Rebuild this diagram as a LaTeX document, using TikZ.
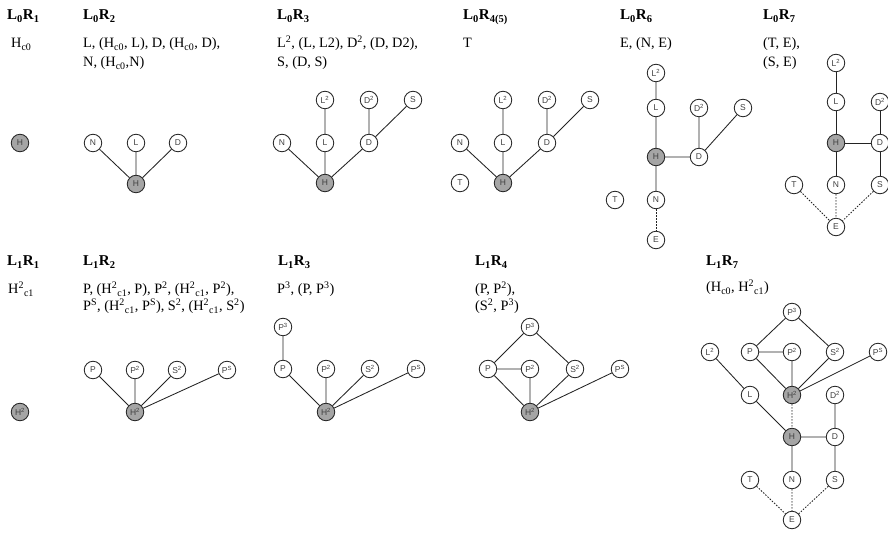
\documentclass[tikz,border=0pt]{standalone}
\usepackage{fontspec}
\setmainfont{Liberation Serif}
\newfontfamily\nodefont{Liberation Sans}
\definecolor{hgray}{RGB}{165,165,165}
\definecolor{lgray}{RGB}{35,35,35}
\begin{document}
\begin{tikzpicture}[x=1pt,y=-1pt,
 v/.style={circle,draw=lgray,line width=0.85pt,fill=white,minimum size=17.5pt,inner sep=0pt,font=\nodefont\fontsize{8.5}{9}\selectfont,text=black!75},
 hv/.style={v,fill=hgray},
 e/.style={draw=lgray,line width=0.85pt},
 de/.style={e,dash pattern=on 1.5pt off 1.5pt},
 hd/.style={anchor=base west,font=\fontsize{15}{18}\selectfont\bfseries,inner sep=0pt},
 tx/.style={anchor=base west,font=\fontsize{14.3}{17}\selectfont,inner sep=0pt}]
\useasboundingbox[fill=white] (0,0) rectangle (888,534);

% ---------- headings and texts, top row ----------
\node[hd] (t01) at (7,20) {L\textsubscript{0}R\textsubscript{1}};
\node[hd] (t02) at (83,20) {L\textsubscript{0}R\textsubscript{2}};
\node[hd] (t03) at (277,20) {L\textsubscript{0}R\textsubscript{3}};
\node[hd] (t04) at (463,20) {L\textsubscript{0}R\textsubscript{4(5)}};
\node[hd] (t06) at (620,20) {L\textsubscript{0}R\textsubscript{6}};
\node[hd] (t07) at (763,20) {L\textsubscript{0}R\textsubscript{7}};

\node[tx] (x01) at (11,48) {H\textsubscript{c0}};
\node[tx] (x02a) at (83,48) {L, (H\textsubscript{c0}, L), D, (H\textsubscript{c0}, D),};
\node[tx] (x02b) at (83,67) {N, (H\textsubscript{c0},N)};
\node[tx] (x03a) at (277,48) {L\textsuperscript{2}, (L, L2), D\textsuperscript{2}, (D, D2),};
\node[tx] (x03b) at (277,67) {S, (D, S)};
\node[tx] (x04) at (463,48) {T};
\node[tx] (x06) at (620,48) {E, (N, E)};
\node[tx] (x07a) at (763,48) {(T, E),};
\node[tx] (x07b) at (763,67) {(S, E)};

% ---------- headings and texts, bottom row ----------
\node[hd] (t11) at (7,266) {L\textsubscript{1}R\textsubscript{1}};
\node[hd] (t12) at (83,266) {L\textsubscript{1}R\textsubscript{2}};
\node[hd] (t13) at (278,266) {L\textsubscript{1}R\textsubscript{3}};
\node[hd] (t14) at (475,266) {L\textsubscript{1}R\textsubscript{4}};
\node[hd] (t17) at (706,266) {L\textsubscript{1}R\textsubscript{7}};

\node[tx] (x11) at (8,294) {H\textsuperscript{2}\textsubscript{c1}};
\node[tx] (x12a) at (83,294) {P, (H\textsuperscript{2}\textsubscript{c1}, P), P\textsuperscript{2}, (H\textsuperscript{2}\textsubscript{c1}, P\textsuperscript{2}),};
\node[tx] (x12b) at (83,311) {P\textsuperscript{S}, (H\textsuperscript{2}\textsubscript{c1}, P\textsuperscript{S}), S\textsuperscript{2}, (H\textsuperscript{2}\textsubscript{c1}, S\textsuperscript{2})};
\node[tx] (x13) at (277,294) {P\textsuperscript{3}, (P, P\textsuperscript{3})};
\node[tx] (x14a) at (475,294) {(P, P\textsuperscript{2}),};
\node[tx] (x14b) at (475,311) {(S\textsuperscript{2}, P\textsuperscript{3})};
\node[tx] (x17) at (706,292) {(H\textsubscript{c0}, H\textsuperscript{2}\textsubscript{c1})};

% ---------- L0R1 ----------
\node[hv] (aH) at (20,143) {H};

% ---------- L0R2 ----------
\node[v] (bN) at (93,143) {N};
\node[v] (bL) at (136,143) {L};
\node[v] (bD) at (178,143) {D};
\node[hv] (bH) at (136,184) {H};
\draw[e] (bH) -- (bN) (bH) -- (bL) (bH) -- (bD);

% ---------- L0R3 ----------
\node[v] (cL2) at (325,100) {L\textsuperscript{2}};
\node[v] (cD2) at (369,100) {D\textsuperscript{2}};
\node[v] (cS) at (413,100) {S};
\node[v] (cN) at (282,143) {N};
\node[v] (cL) at (325,143) {L};
\node[v] (cD) at (369,143) {D};
\node[hv] (cH) at (325,183) {H};
\draw[e] (cH) -- (cN) (cH) -- (cL) (cH) -- (cD) (cL) -- (cL2) (cD) -- (cD2) (cD) -- (cS);

% ---------- L0R4(5) ----------
\node[v] (dL2) at (503,100) {L\textsuperscript{2}};
\node[v] (dD2) at (547,100) {D\textsuperscript{2}};
\node[v] (dS) at (590,100) {S};
\node[v] (dN) at (460,143) {N};
\node[v] (dL) at (503,143) {L};
\node[v] (dD) at (547,143) {D};
\node[hv] (dH) at (503,183) {H};
\node[v] (dT) at (460,183) {T};
\draw[e] (dH) -- (dN) (dH) -- (dL) (dH) -- (dD) (dL) -- (dL2) (dD) -- (dD2) (dD) -- (dS);

% ---------- L0R6 ----------
\node[v] (fL2) at (656,73) {L\textsuperscript{2}};
\node[v] (fL) at (656,108) {L};
\node[v] (fD2) at (699,108) {D\textsuperscript{2}};
\node[v] (fS) at (743,108) {S};
\node[hv] (fH) at (656,157) {H};
\node[v] (fD) at (699,157) {D};
\node[v] (fT) at (615,200) {T};
\node[v] (fN) at (656,200) {N};
\node[v] (fE) at (656,240) {E};
\draw[e] (fL2) -- (fL) (fL) -- (fH) (fH) -- (fD) (fD) -- (fD2) (fD) -- (fS) (fH) -- (fN);
\draw[de] (fN) -- (fE);

% ---------- L0R7 ----------
\node[v] (gL2) at (836,63) {L\textsuperscript{2}};
\node[v] (gL) at (836,102) {L};
\node[v] (gD2) at (880,102) {D\textsuperscript{2}};
\node[hv] (gH) at (836,143) {H};
\node[v] (gD) at (880,143) {D};
\node[v] (gT) at (794,185) {T};
\node[v] (gN) at (836,185) {N};
\node[v] (gS) at (880,185) {S};
\node[v] (gE) at (836,227) {E};
\draw[e] (gL2) -- (gL) (gL) -- (gH) (gH) -- (gD) (gD) -- (gD2) (gD) -- (gS) (gH) -- (gN);
\draw[de] (gT) -- (gE) (gN) -- (gE) (gS) -- (gE);

% ---------- L1R1 ----------
\node[hv] (hH2) at (20,412) {H\textsuperscript{2}};

% ---------- L1R2 ----------
\node[v] (iP) at (93,370) {P};
\node[v] (iP2) at (135,370) {P\textsuperscript{2}};
\node[v] (iS2) at (177,370) {S\textsuperscript{2}};
\node[v] (iPS) at (227,370) {P\textsuperscript{S}};
\node[hv] (iH2) at (135,412) {H\textsuperscript{2}};
\draw[e] (iH2) -- (iP) (iH2) -- (iP2) (iH2) -- (iS2) (iH2) -- (iPS);

% ---------- L1R3 ----------
\node[v] (jP3) at (283,327) {P\textsuperscript{3}};
\node[v] (jP) at (283,369) {P};
\node[v] (jP2) at (326,369) {P\textsuperscript{2}};
\node[v] (jS2) at (370,369) {S\textsuperscript{2}};
\node[v] (jPS) at (416,369) {P\textsuperscript{S}};
\node[hv] (jH2) at (326,412) {H\textsuperscript{2}};
\draw[e] (jH2) -- (jP) (jH2) -- (jP2) (jH2) -- (jS2) (jH2) -- (jPS) (jP) -- (jP3);

% ---------- L1R4 ----------
\node[v] (kP3) at (530,327) {P\textsuperscript{3}};
\node[v] (kP) at (488,369) {P};
\node[v] (kP2) at (530,369) {P\textsuperscript{2}};
\node[v] (kS2) at (575,369) {S\textsuperscript{2}};
\node[v] (kPS) at (620,369) {P\textsuperscript{S}};
\node[hv] (kH2) at (530,412) {H\textsuperscript{2}};
\draw[e] (kH2) -- (kP) (kH2) -- (kP2) (kH2) -- (kS2) (kH2) -- (kPS) (kP) -- (kP3) (kP) -- (kP2) (kS2) -- (kP3);

% ---------- L1R7 ----------
\node[v] (mP3) at (792,312) {P\textsuperscript{3}};
\node[v] (mL2) at (710,352) {L\textsuperscript{2}};
\node[v] (mP) at (750,352) {P};
\node[v] (mP2) at (792,352) {P\textsuperscript{2}};
\node[v] (mS2) at (835,352) {S\textsuperscript{2}};
\node[v] (mPS) at (878,352) {P\textsuperscript{S}};
\node[v] (mL) at (750,395) {L};
\node[hv] (mH2) at (792,395) {H\textsuperscript{2}};
\node[v] (mD2) at (835,395) {D\textsuperscript{2}};
\node[hv] (mH) at (792,437) {H};
\node[v] (mD) at (835,437) {D};
\node[v] (mT) at (750,480) {T};
\node[v] (mN) at (792,480) {N};
\node[v] (mS) at (835,480) {S};
\node[v] (mE) at (792,520) {E};
\draw[e] (mP) -- (mP3) (mS2) -- (mP3) (mP) -- (mP2) (mP) -- (mH2) (mP2) -- (mH2) (mS2) -- (mH2) (mPS) -- (mH2)
  (mL2) -- (mL) (mL) -- (mH) (mH) -- (mD) (mD) -- (mD2) (mD) -- (mS) (mH) -- (mN);
\draw[de] (mH2) -- (mH) (mT) -- (mE) (mN) -- (mE) (mS) -- (mE);
\end{tikzpicture}
\end{document}
